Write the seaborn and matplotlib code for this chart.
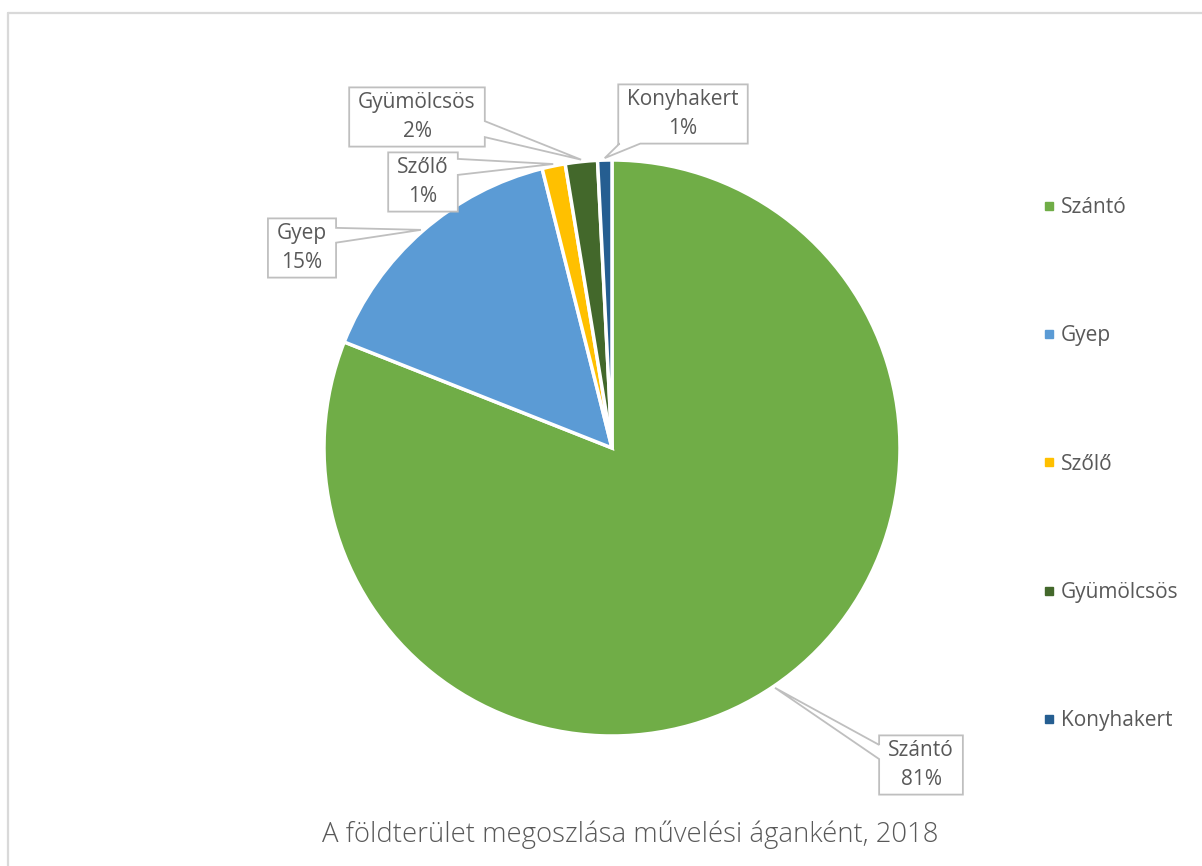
import numpy as np
import seaborn as sns
import matplotlib.pyplot as plt
from matplotlib.patches import Polygon
from matplotlib.lines import Line2D

# data (share of land area, %)
categories = ['Szántó', 'Gyep', 'Szőlő', 'Gyümölcsös', 'Konyhakert']
shares = [81.0, 15.1, 1.3, 1.8, 0.8]
colors = ['#70AD47', '#5B9BD5', '#FFC000', '#43682B', '#255E91']
title = 'A földterület megoszlása művelési áganként, 2018'

sns.set_theme(style='white')
plt.rcParams['font.family'] = ['Open Sans', 'DejaVu Sans']
palette = sns.color_palette(colors)

W, H = 1202, 866
fig = plt.figure(figsize=(W / 100, H / 100), dpi=100)
ax = fig.add_axes([0, 0, 1, 1])

cx, cy, radius = 612, H - 448, 288
wedges, _ = ax.pie(shares, colors=palette, startangle=90, counterclock=False,
                   center=(cx, cy), radius=radius,
                   wedgeprops=dict(edgecolor='white', linewidth=2.5))
ax.set_xlim(0, W)
ax.set_ylim(0, H)
ax.set_aspect('equal')
ax.axis('off')

# callout layout: box centre offset from pie centre, side of the pointer, base fractions
callouts = {
    'Szántó':     ((309, -317), 3, (0.60, 0.84)),
    'Gyep':       ((-310, 200), 1, (0.16, 0.41)),
    'Szőlő':      ((-189, 266), 1, (0.11, 0.38)),
    'Gyümölcsös': ((-195, 331), 1, (0.57, 0.84)),
    'Konyhakert': ((71, 334), 2, (0.83, 0.99)),
}
text_color = '#595959'
edge_color = '#BFBFBF'
total = sum(shares)
fs = 15

fig.canvas.draw()
renderer = fig.canvas.get_renderer()
for w, cat, val in zip(wedges, categories, shares):
    (dx, dy), side, (f1, f2) = callouts[cat]
    mid = np.deg2rad((w.theta1 + w.theta2) / 2)
    tip = (cx + (radius + 2) * np.cos(mid), cy + (radius + 2) * np.sin(mid))
    t = ax.text(cx + dx, cy + dy, f'{cat}\n{round(val / total * 100)}%',
                ha='center', va='center', ma='center', fontsize=fs,
                color=text_color, linespacing=1.45, zorder=5)
    bb = t.get_window_extent(renderer)
    padx, pady = 9, 5
    x0, x1 = bb.x0 - padx, bb.x1 + padx
    y0, y1 = bb.y0 - pady, bb.y1 + pady
    corners = [(x0, y1), (x1, y1), (x1, y0), (x0, y0)]
    verts = []
    for i in range(4):
        a = corners[i]
        b = corners[(i + 1) % 4]
        verts.append(a)
        if i == side:
            for f in (f1, f2):
                p = (a[0] + (b[0] - a[0]) * f, a[1] + (b[1] - a[1]) * f)
                verts.append(p)
                if f == f1:
                    verts.append(tip)
    ax.add_patch(Polygon(verts, closed=True, facecolor='white',
                         edgecolor=edge_color, linewidth=1.3, zorder=4))

handles = [Line2D([], [], marker='s', linestyle='none', markersize=6,
                  markerfacecolor=c, markeredgecolor=c) for c in palette]
fig.legend(handles, categories, loc='center left',
           bbox_to_anchor=(1032 / W, 1 - 464 / H), frameon=False,
           fontsize=fs, labelcolor=text_color, labelspacing=5.15,
           handlelength=0.6, handletextpad=0.3, borderpad=0)

fig.text(630 / W, 1 - 835 / H, title, ha='center', va='center',
         fontsize=19.8, fontweight='light', color=text_color)

# chart area border (top and left visible)
fig.add_artist(Line2D([8 / W, 1], [1 - 13 / H, 1 - 13 / H], color='#D9D9D9', linewidth=1.6))
fig.add_artist(Line2D([8 / W, 8 / W], [0, 1 - 13 / H], color='#D9D9D9', linewidth=1.6))

fig.savefig('out.png', dpi=100, facecolor='white')
